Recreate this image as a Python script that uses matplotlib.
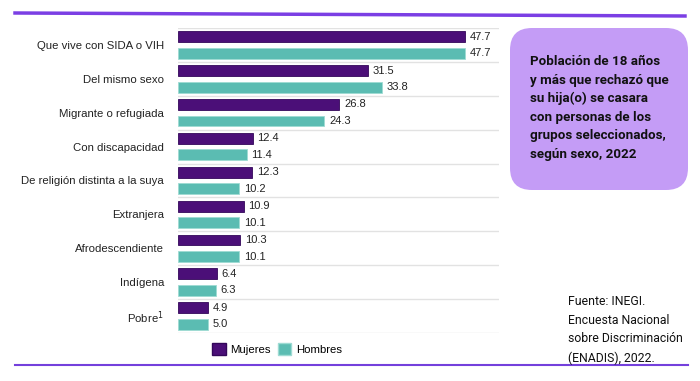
import numpy as np
import matplotlib
matplotlib.use("Agg")
import matplotlib.pyplot as plt
from matplotlib.patches import FancyBboxPatch, Patch
from matplotlib.lines import Line2D

categorias = ["Que vive con SIDA o VIH", "Del mismo sexo", "Migrante o refugiada",
              "Con discapacidad", "De religión distinta a la suya", "Extranjera",
              "Afrodescendiente", "Indígena", "Pobre$^1$"]
mujeres = [47.7, 31.5, 26.8, 12.4, 12.3, 10.9, 10.3, 6.4, 4.9]
hombres = [47.7, 33.8, 24.3, 11.4, 10.2, 10.1, 10.1, 6.3, 5.0]

titulo = ("Población de 18 años\ny más que rechazó que\nsu hija(o) se casara\n"
          "con personas de los\ngrupos seleccionados,\nsegún sexo, 2022")
fuente = "Fuente: INEGI.\nEncuesta Nacional\nsobre Discriminación\n(ENADIS), 2022."

c_muj = "#4b0f78"
c_hom = "#5bbcb2"
sans = ["Liberation Sans", "DejaVu Sans"]
narrow = ["Roboto", "Liberation Sans", "DejaVu Sans"]

W, H = 700, 381
fig = plt.figure(figsize=(7, 3.81), dpi=100)
fig.patch.set_facecolor("white")

ax = fig.add_axes([178 / W, 1 - 333 / H, (499 - 178) / W, (333 - 28) / H])
y = np.arange(len(categorias))
bh = 0.32
ax.barh(y - 0.245, mujeres, height=bh, color=c_muj, edgecolor="#33075a", linewidth=0.6)
ax.barh(y + 0.245, hombres, height=bh, color=c_hom, edgecolor="#9edbd3", linewidth=0.6)
for i in range(len(categorias)):
    ax.text(mujeres[i] + 0.8, y[i] - 0.245, f"{mujeres[i]:.1f}", va="center", ha="left",
            fontsize=8, family=sans, color="#222222")
    ax.text(hombres[i] + 0.8, y[i] + 0.245, f"{hombres[i]:.1f}", va="center", ha="left",
            fontsize=8, family=sans, color="#222222")
for b in np.arange(-0.5, len(categorias), 1.0):
    ax.axhline(b, color="#e2e2e2", lw=1, zorder=0)
ax.set_xlim(0, 53.3)
ax.set_ylim(len(categorias) - 0.5, -0.5)
ax.set_yticks(y)
ax.set_yticklabels(categorias, fontsize=8.2, family=sans, color="#222222")
ax.set_xticks([])
ax.tick_params(axis="y", length=0, pad=10)
for s in ax.spines.values():
    s.set_visible(False)

# legend
handles = [Patch(facecolor=c_muj, edgecolor="#33075a", label="Mujeres"),
           Patch(facecolor=c_hom, edgecolor="#9edbd3", label="Hombres")]
fig.legend(handles=handles, loc="center left", bbox_to_anchor=(202 / W, 1 - 349 / H),
           ncol=2, frameon=False, handlelength=1.2, handleheight=1.2,
           handletextpad=0.4, columnspacing=0.6, prop={"family": sans, "size": 8.2})

# title box
axb = fig.add_axes([510 / W, 1 - 190 / H, 178 / W, 162 / H])
axb.set_xlim(0, 178)
axb.set_ylim(0, 162)
axb.axis("off")
axb.add_patch(FancyBboxPatch((0, 0), 178, 162, boxstyle="round,pad=0,rounding_size=22",
                             facecolor="#c49cf6", edgecolor="none"))
axb.text(20, 82, titulo, ha="left", va="center", fontsize=9.6, fontweight="bold",
         family=narrow, color="#111111", linespacing=1.55)

# source
fig.text(568 / W, 1 - 330 / H, fuente, ha="left", va="center", fontsize=8.8,
         family=narrow, color="#111111", linespacing=1.55)

# decorative lines
fig.add_artist(Line2D([15 / W, 685 / W], [1 - 13 / H, 1 - 16 / H], color="#7b3fe4",
                      lw=2.5, transform=fig.transFigure))
fig.add_artist(Line2D([15 / W, 688 / W], [1 - 365 / H, 1 - 365 / H], color="#7440dc",
                      lw=1.5, transform=fig.transFigure))

fig.savefig("out.png", dpi=100)
